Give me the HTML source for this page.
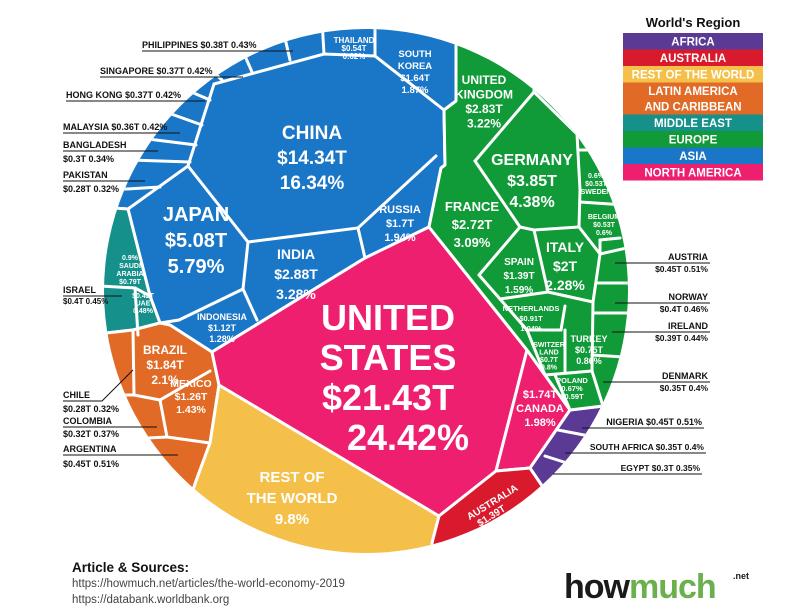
<!DOCTYPE html>
<html><head><meta charset="utf-8">
<style>
html,body{margin:0;padding:0;background:#fff;width:793px;height:615px;overflow:hidden}
svg{display:block}
text{font-family:"Liberation Sans",sans-serif;font-weight:bold}
.in{fill:#fff;text-anchor:middle}
.lab{fill:#111;font-size:9px}
.ln{stroke:#111;stroke-width:1;fill:none}
.sep{stroke:#fff;stroke-width:3;stroke-linecap:round;fill:none}
</style></head>
<body>
<svg id="chart" width="793" height="615" viewBox="0 0 793 615">
<defs><clipPath id="circ"><circle cx="366" cy="291" r="262"/></clipPath></defs>
<g clip-path="url(#circ)" stroke="#fff" stroke-width="3" stroke-linejoin="round">
 <polygon fill="#1a76c7" points="0,0 456,0 456,101 444,110 445,165 441,168 429,227 365,258 212,352 170,325 160,323 150,296 128,209 0,200"/>
 <polygon fill="#16908a" points="0,200 128,209 150,296 160,323 133,330 0,345"/>
 <polygon fill="#e06a26" points="0,345 133,330 160,323 170,325 212,352 219,385 210,443 196,481 150,620 0,620"/>
 <polygon fill="#f4c04a" points="196,481 210,443 219,385 439,516 432,543 440,620 150,620"/>
 <polygon fill="#ee1f6e" points="212,352 365,258 429,227 527,350 496,471 439,516 219,385"/>
 <polygon fill="#ee1f6e" points="527,350 570,410 530,468 496,471"/>
 <polygon fill="#d81a2c" points="439,516 496,471 530,468 545,490 600,620 440,620 432,543"/>
 <polygon fill="#5b3a96" points="530,468 570,410 603,406 700,400 700,620 600,620 545,490"/>
 <polygon fill="#119a38" points="456,0 700,0 700,400 603,406 570,410 527,350 429,227 441,168 445,165 444,110 456,101"/>
</g>
<g clip-path="url(#circ)">
 <polyline class="sep" points="128,209 188,166 214,84 324,54 375,56 444,110"/>
 <polyline class="sep" points="188,166 248,242 358,228 436,156"/>
 <polyline class="sep" points="358,228 365,258"/>
 <polyline class="sep" points="248,242 243,289 257,320"/>
 <polyline class="sep" points="243,289 179,320 160,323"/>
 <polyline class="sep" points="375,56 375,20"/>
 <polyline class="sep" points="324,54 322,20"/>
 <polyline class="sep" points="290,60 282,25"/>
 <polyline class="sep" points="252,72 238,40"/>
 <polyline class="sep" points="222,80 200,60"/>
 <polyline class="sep" points="210,100 175,85"/>
 <polyline class="sep" points="202,125 160,110"/>
 <polyline class="sep" points="196,145 140,138"/>
 <polyline class="sep" points="190,162 130,160"/>
 <polyline class="sep" points="160,187 110,190"/>
 <polyline class="sep" points="100,286 135,288 150,296"/>
 <polyline class="sep" points="135,288 138,335"/>
 <polyline class="sep" points="133,330 134,395 160,400 210,371"/>
 <polyline class="sep" points="100,395 134,395"/>
 <polyline class="sep" points="160,400 167,437 210,443"/>
 <polyline class="sep" points="110,440 167,437"/>
 <polyline class="sep" points="534,92 475,161 520,227 479,275"/>
 <polyline class="sep" points="534,80 534,92 577,134 580,190 579,227 534,230 520,227"/>
 <polyline class="sep" points="534,230 548,292 500,299 479,275"/>
 <polyline class="sep" points="579,227 600,254 593,302 548,292"/>
 <polyline class="sep" points="500,299 527,330 561,330 565,306"/>
 <polyline class="sep" points="527,330 545,375 592,371 593,302"/>
 <polyline class="sep" points="565,330 565,371"/>
 <polyline class="sep" points="555,375 570,410"/>
 <polyline class="sep" points="592,371 603,406"/>
 <polyline class="sep" points="580,150 615,150"/>
 <polyline class="sep" points="580,202 625,205"/>
 <polyline class="sep" points="600,254 640,245"/>
 <polyline class="sep" points="600,254 600,240 620,238"/>
 <polyline class="sep" points="596,283 640,283"/>
 <polyline class="sep" points="594,313 640,313"/>
 <polyline class="sep" points="592,355 640,358"/>
 <polyline class="sep" points="558,430 610,440"/>
 <polyline class="sep" points="545,456 595,472"/>
</g>
<g id="cell-labels"></g>

<g>
 <text class="lab" x="142" y="48">PHILIPPINES $0.38T  0.43%</text><line class="ln" x1="142" y1="51" x2="293" y2="51"/>
 <text class="lab" x="100" y="74">SINGAPORE $0.37T  0.42%</text><line class="ln" x1="100" y1="77" x2="243" y2="77"/>
 <text class="lab" x="66" y="98">HONG KONG  $0.37T  0.42%</text><line class="ln" x1="66" y1="101" x2="205" y2="101"/>
 <text class="lab" x="63" y="130">MALAYSIA $0.36T 0.42%</text><line class="ln" x1="63" y1="133" x2="180" y2="133"/>
 <text class="lab" x="63" y="148">BANGLADESH</text><line class="ln" x1="63" y1="151" x2="158" y2="151"/><text class="lab" x="63" y="162">$0.3T  0.34%</text>
 <text class="lab" x="63" y="178">PAKISTAN</text><line class="ln" x1="63" y1="181" x2="145" y2="181"/><text class="lab" x="63" y="192">$0.28T  0.32%</text>
 <text class="lab" x="63" y="293">ISRAEL</text><line class="ln" x1="63" y1="296" x2="122" y2="296"/><text class="lab" x="63" y="304" style="font-size:8px">$0.4T 0.45%</text>
 <text class="lab" x="63" y="398">CHILE</text><polyline class="ln" points="63,401 102,401 133,370"/><text class="lab" x="63" y="412">$0.28T  0.32%</text>
 <text class="lab" x="63" y="424">COLOMBIA</text><line class="ln" x1="63" y1="427" x2="157" y2="427"/><text class="lab" x="63" y="437">$0.32T 0.37%</text>
 <text class="lab" x="63" y="452">ARGENTINA</text><line class="ln" x1="63" y1="455" x2="178" y2="455"/><text class="lab" x="63" y="467">$0.45T  0.51%</text>
 <g text-anchor="end">
 <text class="lab" x="708" y="260">AUSTRIA</text><line class="ln" x1="615" y1="263" x2="710" y2="263"/><text class="lab" x="708" y="272" style="font-size:8.5px">$0.45T  0.51%</text>
 <text class="lab" x="708" y="300">NORWAY</text><line class="ln" x1="615" y1="303" x2="710" y2="303"/><text class="lab" x="708" y="312" style="font-size:8.5px">$0.4T  0.46%</text>
 <text class="lab" x="708" y="329">IRELAND</text><line class="ln" x1="612" y1="332" x2="710" y2="332"/><text class="lab" x="708" y="341" style="font-size:8.5px">$0.39T  0.44%</text>
 <text class="lab" x="708" y="379">DENMARK</text><line class="ln" x1="603" y1="382" x2="710" y2="382"/><text class="lab" x="708" y="391" style="font-size:8.5px">$0.35T  0.4%</text>
 <text class="lab" x="702" y="425">NIGERIA $0.45T  0.51%</text><line class="ln" x1="582" y1="428" x2="704" y2="428"/>
 <text class="lab" x="704" y="450" style="font-size:8.5px">SOUTH AFRICA $0.35T  0.4%</text><line class="ln" x1="565" y1="453" x2="706" y2="453"/>
 <text class="lab" x="700" y="471" style="font-size:8.5px">EGYPT $0.3T  0.35%</text><line class="ln" x1="553" y1="474" x2="702" y2="474"/>
 </g>
</g>

<g>
 <text x="693" y="27" text-anchor="middle" style="font-size:13px;fill:#111">World's Region</text>
 <g id="legend-rows"></g>
</g>

<g>
 <text x="72" y="572" style="font-size:13.5px;fill:#111">Article &amp; Sources:</text>
 <text x="72" y="587" style="font-size:11.5px;font-weight:normal;fill:#444">https://howmuch.net/articles/the-world-economy-2019</text>
 <text x="72" y="603" style="font-size:11.5px;font-weight:normal;fill:#444">https://databank.worldbank.org</text>
</g>
<g>
 <text x="564" y="598" style="font-size:34px;letter-spacing:-1px"><tspan fill="#1a1a1a">how</tspan><tspan fill="#6ab04c">much</tspan></text>
 <text x="733" y="579" style="font-size:9px;fill:#1a1a1a">.net</text>
</g>
</svg>
<script>
// Legend data
const regions = ["AFRICA","AUSTRALIA","REST OF THE WORLD","LATIN AMERICA|AND CARIBBEAN","MIDDLE EAST","EUROPE","ASIA","NORTH AMERICA"];
const regionColors = ["#5b3a96","#d81a2c","#f4c04a","#e06a26","#16908a","#119a38","#1a76c7","#ee1f6e"];
// Country data
const countries = ["CHINA","JAPAN","INDIA","INDONESIA","RUSSIA","SOUTH|KOREA","THAILAND","UNITED|STATES","REST OF|THE WORLD","BRAZIL","MEXICO","CANADA","UNITED|KINGDOM","GERMANY","FRANCE","SPAIN","ITALY","NETHERLANDS","TURKEY","POLAND","BELGIUM","SWEDEN","SAUDI|ARABIA","UAE","AUSTRALIA","SWITZER|LAND"];
const gdp = ["$14.34T","$5.08T","$2.88T","$1.12T","$1.7T","$1.64T","$0.54T","$21.43T","","$1.84T","$1.26T","$1.74T","$2.83T","$3.85T","$2.72T","$1.39T","$2T","$0.91T","$0.75T","$0.59T","$0.53T","$0.53T","$0.79T","$0.42T","$1.39T","$0.7T"];
const pct = ["16.34%","5.79%","3.28%","1.28%","1.94%","1.87%","0.62%","24.42%","9.8%","2.1%","1.43%","1.98%","3.22%","4.38%","3.09%","1.59%","2.28%","1.04%","0.86%","0.67%","0.6%","0.6%","0.9%","0.48%","1.59%","0.8%"];
// layout (not data): x, first baseline, font size, line spacing
const layout = [[312,139,19,25],[196,221,20,26],[296,259,14,20],[222,320,9,11],[400,213,11,14],[415,57,9.5,12],[354,43,8,8],[388,330,36,40],[292,482,15,21],[165,354,12,15],[191,387,10.5,13],[540,398,11,14],[484,84,12,14.5],[532,165,16,21],[472,211,13,18],[519,265,10,14],[565,252,14,19],[531,311,7.5,10],[589,342,9,11],[572,383,7.5,8],[604,219,7,8],[596,178,7,8],[130,260,7,8],[143,298,7,7.5],[0,0,10,11],[549,347,7,7.5]];
const NS="http://www.w3.org/2000/svg";
const lg=document.getElementById('legend-rows');
let y=33;
regions.forEach((r,i)=>{
  const lines=r.split('|');const h=lines.length>1?32:16.5;
  const rect=document.createElementNS(NS,'rect');
  rect.setAttribute('x',623);rect.setAttribute('y',y);rect.setAttribute('width',140);rect.setAttribute('height',h);rect.setAttribute('fill',regionColors[i]);
  
  
  lg.appendChild(rect);
  lines.forEach((l,j)=>{const t=document.createElementNS(NS,'text');
    t.setAttribute('x',693);t.setAttribute('y',y+12.5+j*15.5);t.setAttribute('text-anchor','middle');
    t.setAttribute('style','font-size:11.5px;fill:#fff');t.textContent=l;
    
    
    lg.appendChild(t);});
  y+=h;
});
const cl=document.getElementById('cell-labels');
countries.forEach((c,i)=>{
  const L=layout[i];
  let lines=c.split('|');
  if(i===11) lines=[gdp[i],c,pct[i]];
  else if(i===6||i===21||i===20||i===19||i===22||i===23){
    if(i===21) lines=[pct[i],gdp[i],c];
    else if(i===22) lines=[pct[i]].concat(lines,[gdp[i]]);
    else if(i===23) lines=[gdp[i],c,pct[i]];
    else if(i===19) lines=[c,pct[i],gdp[i]];
    else lines=lines.concat([gdp[i],pct[i]]);
  } else lines=lines.concat(gdp[i]?[gdp[i],pct[i]]:[pct[i]]);
  const g=document.createElementNS(NS,'text');
  g.setAttribute('class','in');
  g.setAttribute('style','font-size:'+L[2]+'px');
  
  
  if(i===24){g.setAttribute('transform','translate(494,505) rotate(-32)');}
  else {g.setAttribute('transform','translate('+L[0]+','+L[1]+')');}
  lines.forEach((l,j)=>{const s=document.createElementNS(NS,'tspan');
    let dx=0;
    if(i===7&&j===3) dx=20;
    if(i===24) dx=-j*8;
    s.setAttribute('x',dx);s.setAttribute('y',j*L[3]);s.textContent=l;g.appendChild(s);});
  cl.appendChild(g);
});
</script>
</body></html>
